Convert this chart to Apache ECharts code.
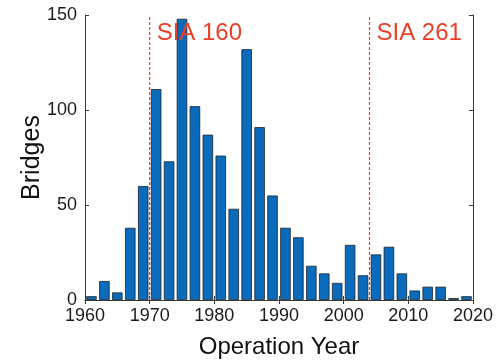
<!DOCTYPE html>
<html>
<head>
<meta charset="utf-8">
<script src="https://cdn.jsdelivr.net/npm/echarts@6/dist/echarts.min.js"></script>
<style>
  html, body { margin: 0; padding: 0; background: #fff; }
  #chart { width: 496px; height: 364px; }
</style>
</head>
<body>
<div id="chart"></div>
<script>
// Bridges put into operation, grouped in two-year bins (bin centres)
const binYears = [1961, 1963, 1965, 1967, 1969, 1971, 1973, 1975, 1977, 1979,
                  1981, 1983, 1985, 1987, 1989, 1991, 1993, 1995, 1997, 1999,
                  2001, 2003, 2005, 2007, 2009, 2011, 2013, 2015, 2017, 2019];
const bridgeCounts = [2, 10, 4, 38, 60, 111, 73, 148, 102, 87,
                      76, 48, 132, 91, 55, 38, 33, 18, 14, 9,
                      29, 13, 24, 28, 14, 5, 7, 7, 1, 2];

// Code revisions marked on the timeline
const codeNames = ['SIA 160', 'SIA 261'];
const codeYears = [1970, 2004];

const xTicks = { min: 1960, max: 2020, interval: 10 };
const yTicks = { min: 0, max: 150, interval: 50 };

const FONT = '"Liberation Sans", Arial, sans-serif';
const chart = echarts.init(document.getElementById('chart'));

const barData = binYears.map((y, i) => [y, bridgeCounts[i]]);

const boxColor = '#3a3a3a';
const codeColor = '#ea3f26';
const makeTick = () => ({ inside: true, length: 4, lineStyle: { color: boxColor } });
const axisLine = () => ({ show: true, lineStyle: { color: boxColor, width: 1 } });

// one dashed vertical line per code revision, spanning the full y range,
// with its name written at the top end
const codeSeries = codeYears.map((year, i) => ({
  type: 'line',
  xAxisIndex: 0, yAxisIndex: 0,
  data: [[year, yTicks.min], [year, yTicks.max]],
  symbol: 'none',
  silent: true,
  z: 3,
  lineStyle: { color: codeColor, width: 1.2, type: [3, 2] },
  endLabel: {
    show: true, formatter: codeNames[i],
    color: codeColor, fontSize: 24, fontFamily: FONT,
    align: 'left', verticalAlign: 'top', offset: [-1, 6]
  },
  labelLayout: { hideOverlap: false }
}));

chart.setOption({
  backgroundColor: '#fff',
  animation: false,
  grid: { left: 85, right: 22, top: 15, bottom: 61 },
  xAxis: [
    {
      type: 'value', position: 'bottom',
      min: xTicks.min, max: xTicks.max, interval: xTicks.interval,
      axisLine: axisLine(), splitLine: { show: false }, axisTick: makeTick(),
      axisLabel: { color: '#1a1a1a', fontSize: 18, fontFamily: FONT, margin: 7,
                   formatter: v => String(v) },
      name: 'Operation Year', nameLocation: 'middle', nameGap: 35,
      nameMoveOverlap: false,
      nameTextStyle: { color: '#111', fontSize: 24, fontFamily: FONT }
    },
    {
      type: 'value', position: 'top',
      min: xTicks.min, max: xTicks.max, interval: xTicks.interval,
      axisLine: axisLine(), splitLine: { show: false }, axisTick: makeTick(),
      axisLabel: { show: false }
    }
  ],
  yAxis: [
    {
      type: 'value', position: 'left',
      min: yTicks.min, max: yTicks.max, interval: yTicks.interval,
      axisLine: axisLine(), splitLine: { show: false }, axisTick: makeTick(),
      axisLabel: { color: '#1a1a1a', fontSize: 18, fontFamily: FONT, margin: 8 },
      name: 'Bridges', nameLocation: 'middle', nameGap: 40,
      nameMoveOverlap: false,
      nameTextStyle: { color: '#111', fontSize: 25, fontFamily: FONT }
    },
    {
      type: 'value', position: 'right',
      min: yTicks.min, max: yTicks.max, interval: yTicks.interval,
      axisLine: axisLine(), splitLine: { show: false }, axisTick: makeTick(),
      axisLabel: { show: false }
    }
  ],
  series: [
    {
      type: 'bar',
      xAxisIndex: 0, yAxisIndex: 0,
      data: barData,
      barWidth: 10.5,
      z: 2,
      itemStyle: { color: '#0a6bbd', borderColor: '#1c2530', borderWidth: 0.8 }
    }
  ].concat(codeSeries)
});
</script>
</body>
</html>
